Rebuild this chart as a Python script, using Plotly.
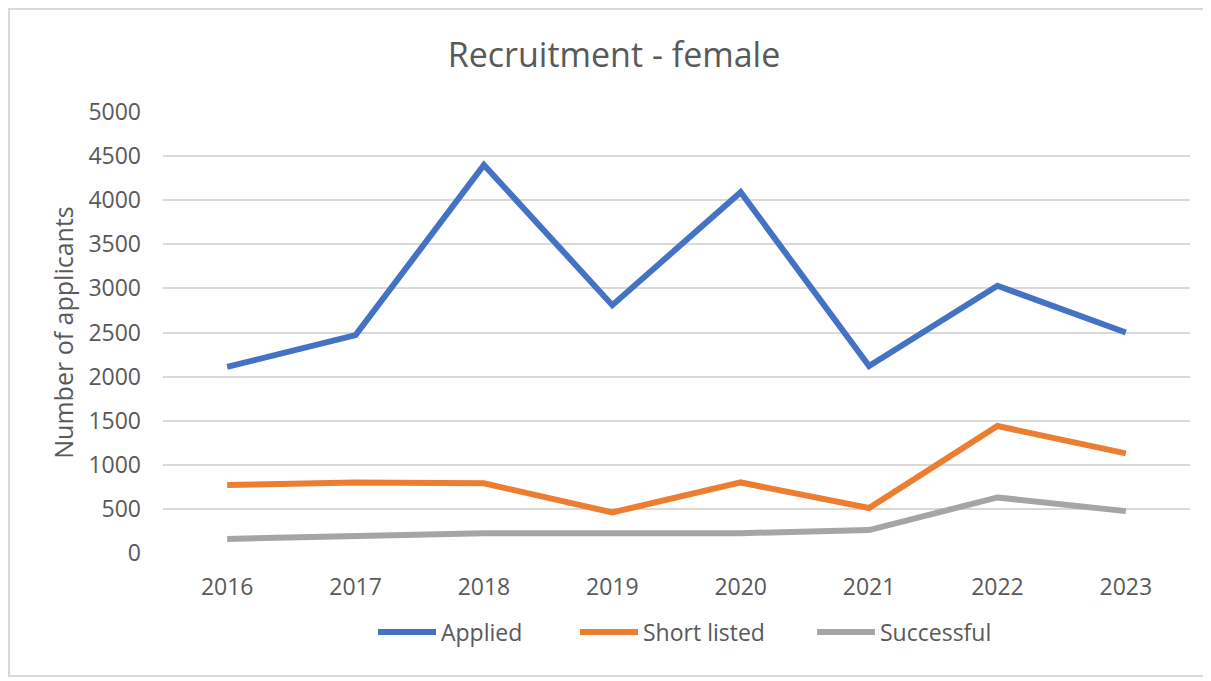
import plotly.graph_objects as go

years = ["2016", "2017", "2018", "2019", "2020", "2021", "2022", "2023"]
applied = [2110, 2470, 4400, 2810, 4090, 2120, 3030, 2500]
short_listed = [770, 800, 790, 460, 800, 510, 1440, 1130]
successful = [160, 185, 225, 225, 225, 260, 630, 475]
y_ticks = [0, 500, 1000, 1500, 2000, 2500, 3000, 3500, 4000, 4500, 5000]

FONT = "Open Sans"
GRAY = "#595959"

# figure is drawn in a page with an 8px body margin
W, H = 1203, 673
L, R, T, B = 155, 21, 104, 128
PW, PH = W - L - R, H - T - B


def px_x(p):
    return (p - L) / PW


def px_y(p):
    return (H - B - p) / PH


series = [("Applied", applied, "#4472C4", "legend", 365),
          ("Short listed", short_listed, "#ED7D31", "legend2", 567),
          ("Successful", successful, "#A5A5A5", "legend3", 804)]

fig = go.Figure()
legend_layout = {}
for name, vals, col, lg, lx in series:
    fig.add_trace(go.Scatter(x=years, y=vals, mode="lines", name=name,
                             legend=lg, line=dict(color=col, width=6)))
    legend_layout[lg] = dict(orientation="h", x=px_x(lx), xanchor="left",
                             y=px_y(624), yanchor="middle",
                             font=dict(family=FONT, size=23, color=GRAY),
                             itemwidth=58, bgcolor="rgba(0,0,0,0)")

fig.update_layout(
    width=W, height=H,
    margin=dict(l=L, r=R, t=T, b=B, autoexpand=False),
    paper_bgcolor="white", plot_bgcolor="white",
    font=dict(family=FONT, color=GRAY, size=23),
    title=dict(text="Recruitment - female", x=606 / W, xanchor="center",
               y=1 - 47 / H, yanchor="middle",
               font=dict(family=FONT, size=34, color=GRAY)),
    showlegend=True,
    xaxis=dict(range=[-0.5, 7.5], showgrid=False, showline=False,
               zeroline=False, ticks="", ticklabelstandoff=18,
               tickfont=dict(family=FONT, size=23, color=GRAY)),
    yaxis=dict(range=[0, 5000], tickvals=y_ticks, showgrid=True,
               gridcolor="#D9D9D9", gridwidth=2, zeroline=False,
               showline=False, ticks="", ticklabelstandoff=21,
               tickfont=dict(family=FONT, size=23, color=GRAY),
               title=dict(text="Number of applicants", standoff=7,
                          font=dict(family=FONT, size=25, color=GRAY))),
    shapes=[dict(type="rect", xref="paper", yref="paper",
                 x0=px_x(1), x1=px_x(1196), y0=px_y(668), y1=px_y(1),
                 line=dict(color="#D9D9D9", width=2), layer="below")],
    **legend_layout,
)

fig.write_html("out.html")
